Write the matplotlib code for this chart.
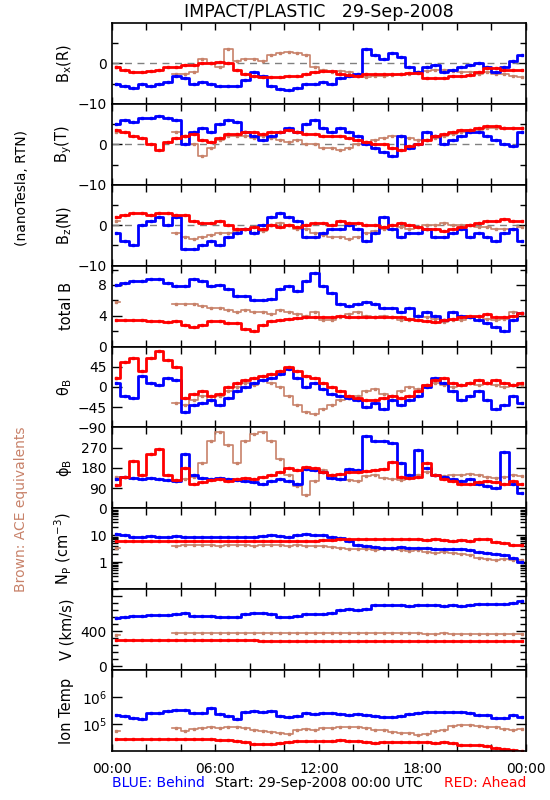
import numpy as np
import matplotlib.pyplot as plt
from matplotlib.ticker import FixedLocator, FixedFormatter, MultipleLocator, NullFormatter, LogLocator

nan = np.nan

# half-hour samples, 00:00 .. 23:30 (29-Sep-2008)
hours = np.arange(48) * 0.5 + 0.25

bx_red = [-1.0, -1.5, -2.0, -2.0, -1.8, -1.5, -1.0, -0.8,
          -0.5, -0.3, 0.0, 0.2, 0.3, 0.0, -1.5, -2.5,
          -3.0, -3.3, -3.3, -3.3, -3.0, -3.0, -2.5, -2.0,
          -1.8, -1.8, -2.5, -2.8, -3.0, -2.5, -2.5, -2.5,
          -2.5, -2.5, -2.3, -2.3, -3.5, -3.7, -3.5, -3.0,
          -3.0, -2.8, -2.0, -1.2, -1.2, -1.5, -1.7, -1.7]
bx_blue = [-5.0, -5.5, -6.0, -5.0, -5.5, -5.0, -4.5, -3.0,
           -3.5, -5.0, -4.5, -5.0, -5.5, -5.5, -5.5, -4.0,
           -2.0, -3.0, -5.5, -6.3, -6.5, -6.0, -5.0, -5.0,
           -4.5, -5.0, -3.5, -3.0, -2.5, 3.5, 2.0, 1.0,
           2.5, 1.5, -1.0, -2.0, -1.0, -0.5, -2.0, -1.5,
           -1.0, -0.5, 0.0, -1.0, -2.0, -1.0, 0.5, 2.0]
bx_ace = [-1.0, nan, nan, nan, nan, nan, nan, -2.5,
          -2.5, -2.0, 1.0, 0.0, -1.0, 3.5, 0.5, 1.0,
          1.0, 0.5, 2.0, 2.5, 2.8, 2.5, 2.0, -1.0,
          -1.5, -2.0, -1.8, -2.0, -3.0, -3.3, -3.2, -3.0,
          -2.8, -2.5, -2.5, -2.0, -1.8, -1.5, -1.5, -1.8,
          -2.0, -2.2, -2.5, -2.0, -2.5, -2.5, -3.0, -3.3]

by_red = [3.5, 3.0, 2.0, 1.5, 0.0, -1.5, 0.5, 1.5,
          2.0, 2.5, 1.0, 0.5, 1.5, 2.5, 2.5, 3.0,
          3.0, 2.5, 3.0, 3.0, 3.5, 3.0, 2.5, 2.5,
          2.0, 2.0, 2.0, 1.5, 1.0, 0.5, 0.0, 0.0,
          -1.0, -1.5, -0.5, 0.0, 1.0, 2.0, 2.5, 3.0,
          3.5, 3.5, 4.0, 4.5, 4.5, 4.0, 4.0, 4.0]
by_blue = [5.0, 6.0, 5.5, 6.5, 6.5, 7.0, 6.5, 6.0,
           0.0, 3.0, 4.0, 3.0, 5.0, 6.0, 5.5, 3.0,
           2.0, 1.0, 2.0, 3.0, 4.0, 3.0, 5.0, 6.0,
           4.0, 3.0, 4.0, 3.0, 2.0, 0.0, -1.0, -2.0,
           -3.0, 2.0, -1.0, 0.0, 3.0, 2.0, 0.0, 1.0,
           2.0, 3.0, 3.0, 2.0, 1.0, 0.0, -0.5, 3.0]
by_ace = [3.0, nan, nan, nan, nan, nan, nan, 3.0,
          2.0, 0.0, -3.0, -1.0, 1.0, 2.0, 2.0, 2.0,
          1.5, 2.0, 1.5, 1.0, 0.5, 1.0, 0.0, 0.0,
          -1.0, -1.0, -1.5, -1.0, 0.0, 0.5, 1.0, 1.5,
          2.0, 2.0, 1.5, 1.0, 1.0, 1.5, 2.0, 2.5,
          3.0, 3.5, 3.5, 4.0, 4.0, 4.0, 4.0, 4.0]

bz_red = [2.0, 2.5, 3.0, 3.0, 2.5, 3.0, 3.0, 2.5,
          2.5, 1.0, 0.5, 0.5, 1.0, 0.0, -1.0, -1.0,
          -0.5, -1.0, 0.0, -0.5, 0.0, -0.5, 0.0, 0.5,
          0.5, 0.0, 1.0, 0.5, 0.5, 0.0, 0.0, -0.5,
          0.0, 0.5, 0.0, -0.5, -1.0, -1.0, -1.5, -1.0,
          -0.5, 0.0, 0.5, 1.0, 1.0, 1.5, 1.0, 1.0]
bz_blue = [-2.0, -4.0, -5.0, 0.0, 1.0, 2.0, 0.0, 2.0,
           -6.0, -6.0, -5.0, -4.0, -5.0, -3.0, -2.0, -1.0,
           -2.0, 0.0, 2.0, 3.0, 2.0, 1.0, -3.0, -3.0,
           -2.0, -1.0, -1.0, 0.0, -1.0, -4.0, -2.0, 2.0,
           -1.0, -3.0, -2.0, -2.0, -1.0, -3.0, -3.0, -2.0,
           -1.0, -3.0, -2.0, -3.0, -4.0, -2.0, -1.0, -4.0]
bz_ace = [1.0, nan, nan, nan, nan, nan, nan, -2.0,
          -3.0, -3.5, -3.0, -2.5, -2.0, -2.0, -1.5, -1.0,
          -2.0, -1.5, 0.0, 0.5, 0.0, -1.0, -1.0, -2.0,
          -2.5, -3.0, -3.0, -3.5, -3.0, -2.0, -1.5, -1.0,
          -1.0, -0.5, -1.0, -0.5, 0.0, 0.0, 0.5, 0.0,
          0.0, 0.0, -0.5, -0.5, -1.0, -1.0, -1.0, -0.5]

bt_red = [3.5, 3.5, 3.5, 3.4, 3.3, 3.3, 3.2, 3.3,
          2.8, 2.5, 2.8, 3.3, 3.3, 3.1, 3.0, 2.3,
          2.0, 2.8, 3.3, 3.5, 3.6, 3.7, 3.8, 3.9,
          3.9, 3.9, 4.0, 3.9, 3.8, 3.8, 3.9, 3.9,
          3.9, 3.8, 3.6, 3.5, 3.3, 3.2, 3.4, 3.6,
          3.9, 4.0, 4.0, 4.2, 3.9, 3.8, 4.0, 4.3]
bt_blue = [8.0, 8.3, 8.5, 8.5, 8.8, 8.8, 8.2, 7.8,
           7.8, 8.8, 8.5, 7.8, 8.0, 7.5, 6.5, 6.5,
           6.0, 6.0, 6.2, 7.5, 7.8, 7.2, 8.5, 9.5,
           7.8, 7.0, 5.5, 5.2, 5.5, 5.8, 5.5, 5.0,
           5.0, 4.5, 5.0, 4.0, 4.5, 4.0, 3.5, 4.5,
           4.0, 3.8, 3.5, 3.0, 2.5, 2.0, 3.5, 4.3]
bt_ace = [5.8, nan, nan, nan, nan, nan, nan, 5.5,
          5.5, 5.5, 5.2, 5.0, 5.0, 4.8, 4.5, 4.8,
          4.5, 4.5, 4.2, 4.8, 4.5, 4.2, 4.0, 4.5,
          3.5, 3.5, 3.8, 4.2, 4.5, 4.0, 3.8, 4.0,
          3.8, 3.5, 3.5, 4.0, 3.8, 3.6, 3.2, 3.5,
          3.5, 3.8, 3.8, 3.6, 3.4, 3.6, 4.5, 4.2]

theta_red = [20, 55, 65, 35, 65, 80, 60, 45,
             -25, -15, -10, -20, -15, 0, 10, 15,
             20, 25, 30, 35, 45, 35, 25, 20,
             10, 0, -10, -20, -25, -30, -30, -25,
             -20, -25, -20, -10, 5, 15, 20, 10,
             5, 10, 15, 10, 15, 10, 5, 10]
theta_blue = [10, -20, -25, 25, 10, 5, 20, 15,
              -55, -40, -35, -30, -40, -25, -10, 0,
              10, 15, 20, 30, 40, 20, 0, 10,
              -5, -15, -20, -25, -30, -45, -35, -50,
              -30, -40, -30, -20, 0, 20, 10, -10,
              -30, -20, -10, -30, -50, -40, -20, -35]
theta_ace = [20, nan, nan, nan, nan, nan, nan, -35,
             -40, -30, -20, -30, -20, -10, 0, 10,
             5, 15, 10, 0, -20, -40, -55, -60,
             -50, -40, -30, -25, -20, -10, -5, -15,
             -20, -10, 0, -5, 5, 10, 5, 0,
             5, 10, 5, 10, 5, 0, 5, 5]

phi_red = [105, 140, 210, 150, 240, 265, 150, 125,
           180, 110, 115, 125, 130, 120, 130, 135,
           130, 140, 150, 160, 180, 170, 185, 180,
           160, 150, 155, 160, 160, 165, 170, 175,
           205, 140, 135, 140, 200, 150, 130, 120,
           110, 110, 115, 120, 115, 110, 120, 110]
phi_blue = [130, 140, 135, 130, 135, 130, 125, 120,
            240, 150, 135, 130, 135, 130, 125, 120,
            115, 110, 120, 130, 120, 110, 175, 170,
            160, 135, 130, 175, 170, 320, 300, 300,
            290, 200, 150, 260, 180, 150, 140, 130,
            120, 130, 110, 100, 90, 250, 110, 70]
phi_ace = [140, nan, nan, nan, nan, nan, nan, 120,
           130, 140, 200, 300, 340, 280, 200, 300,
           330, 340, 300, 220, 150, 100, 60, 120,
           170, 150, 130, 125, 120, 145, 150, 135,
           130, 125, 135, 150, 160, 150, 145, 150,
           150, 155, 150, 140, 135, 140, 150, 145]

np_red = [6.0, 6.0, 6.0, 6.2, 6.0, 6.0, 6.0, 6.0,
          6.0, 6.0, 6.2, 6.0, 6.0, 6.0, 6.0, 6.0,
          6.0, 6.0, 6.0, 6.2, 6.2, 6.0, 6.0, 6.2,
          6.5, 6.8, 7.0, 7.0, 7.2, 7.0, 7.0, 7.0,
          7.2, 7.0, 7.0, 7.0, 6.8, 7.0, 6.5, 6.0,
          6.5, 6.0, 7.0, 7.0, 5.5, 5.0, 4.5, 4.5]
np_blue = [11.0, 10.0, 9.0, 9.0, 9.5, 9.0, 9.0, 9.5,
           9.0, 9.0, 8.5, 8.5, 8.5, 9.0, 8.5, 9.0,
           9.0, 9.5, 10.0, 9.5, 9.0, 10.0, 11.0, 10.0,
           10.0, 9.0, 8.0, 6.0, 4.5, 4.0, 3.8, 3.5,
           3.5, 3.8, 3.5, 3.5, 3.3, 3.0, 3.0, 3.2,
           3.0, 2.8, 2.5, 2.2, 2.0, 1.8, 1.5, 1.0]
np_ace = [3.5, nan, nan, nan, nan, nan, nan, 4.0,
          4.2, 4.2, 4.5, 4.2, 4.0, 4.2, 4.5, 4.2,
          4.0, 4.2, 4.5, 4.2, 4.0, 4.2, 4.0, 4.0,
          4.0, 3.8, 3.5, 3.2, 3.0, 3.0, 2.8, 3.0,
          3.0, 2.8, 2.7, 2.8, 2.5, 2.3, 2.5, 2.2,
          2.0, 1.8, 1.5, 1.3, 1.2, 1.3, 1.2, 1.2]

v_red = [298, 297, 296, 296, 295, 295, 295, 295,
         295, 295, 295, 295, 294, 294, 294, 294,
         294, 293, 293, 293, 293, 292, 292, 292,
         292, 292, 291, 291, 291, 290, 290, 290,
         290, 290, 289, 289, 289, 288, 288, 288,
         288, 288, 287, 287, 286, 286, 285, 285]
v_blue = [550, 560, 575, 575, 580, 585, 590, 600,
          610, 570, 570, 575, 565, 560, 565, 600,
          610, 605, 595, 560, 560, 575, 595, 600,
          595, 610, 640, 650, 645, 650, 700, 700,
          705, 700, 690, 700, 700, 695, 690, 700,
          690, 695, 715, 715, 715, 715, 720, 740]
v_ace = [360, nan, nan, nan, nan, nan, nan, 375,
         380, 380, 385, 382, 380, 380, 380, 378,
         378, 380, 382, 380, 380, 380, 378, 378,
         380, 382, 380, 378, 378, 378, 376, 376,
         376, 375, 374, 374, 372, 372, 374, 372,
         372, 372, 370, 370, 370, 370, 370, 368]

t_red = [2.9e4, 2.8e4, 2.8e4, 2.8e4, 2.9e4, 2.8e4, 2.8e4, 2.8e4,
         2.8e4, 2.8e4, 2.8e4, 2.8e4, 2.6e4, 2.6e4, 2.3e4, 2.2e4,
         1.8e4, 1.8e4, 1.8e4, 1.9e4, 2.2e4, 2.3e4, 2.3e4, 2.3e4,
         2.4e4, 2.4e4, 2.5e4, 2.4e4, 2.3e4, 2.2e4, 2.0e4, 2.1e4,
         2.2e4, 2.2e4, 2.2e4, 2.1e4, 2.1e4, 2.0e4, 2.2e4, 1.9e4,
         1.6e4, 1.6e4, 1.6e4, 1.5e4, 1.3e4, 1.2e4, 1.05e4, 1.0e4]
t_blue = [2.2e5, 2.0e5, 1.7e5, 1.6e5, 2.5e5, 2.6e5, 3.0e5, 3.4e5,
          3.2e5, 2.5e5, 2.6e5, 3.9e5, 2.4e5, 2.0e5, 1.5e5, 2.9e5,
          3.0e5, 2.9e5, 3.0e5, 2.0e5, 1.9e5, 2.0e5, 2.5e5, 2.4e5,
          2.5e5, 2.6e5, 2.4e5, 2.2e5, 2.3e5, 2.1e5, 2.0e5, 1.9e5,
          1.9e5, 2.0e5, 2.4e5, 2.6e5, 2.8e5, 2.9e5, 2.9e5, 2.8e5,
          2.8e5, 2.6e5, 2.2e5, 2.1e5, 1.7e5, 1.7e5, 2.2e5, 1.8e5]
t_ace = [5.3e4, nan, nan, nan, nan, nan, nan, 7.1e4,
         5.3e4, 6.5e4, 7.1e4, 7.5e4, 7.0e4, 7.7e4, 7.5e4, 7.0e4,
         6.0e4, 5.5e4, 5.0e4, 4.6e4, 4.2e4, 6.2e4, 6.5e4, 6.2e4,
         7.0e4, 7.1e4, 7.5e4, 8.0e4, 7.5e4, 7.0e4, 6.0e4, 5.8e4,
         5.0e4, 4.8e4, 4.5e4, 4.0e4, 4.2e4, 5.5e4, 6.2e4, 8.5e4,
         9.4e4, 9.0e4, 8.5e4, 8.0e4, 7.5e4, 6.5e4, 6.0e4, 6.5e4]

BROWN = '#C8826A'
time_labels = ['00:00', '06:00', '12:00', '18:00', '00:00']

panels = [
    ('B$_x$(R)', bx_ace, bx_blue, bx_red),
    ('B$_y$(T)', by_ace, by_blue, by_red),
    ('B$_z$(N)', bz_ace, bz_blue, bz_red),
    ('total B', bt_ace, bt_blue, bt_red),
    (r'$\theta_B$', theta_ace, theta_blue, theta_red),
    (r'$\phi_B$', phi_ace, phi_blue, phi_red),
    ('N$_P$ (cm$^{-3}$)', np_ace, np_blue, np_red),
    ('V (km/s)', v_ace, v_blue, v_red),
    ('Ion Temp', t_ace, t_blue, t_red),
]

plt.rcParams['font.family'] = 'DejaVu Sans'
plt.rcParams['font.size'] = 10
plt.rcParams['mathtext.default'] = 'regular'

fig = plt.figure(figsize=(5.5, 8), dpi=100)
W, H = 550.0, 800.0
left, right = 111.7, 526.0
top, bottom = 23.0, 751.0
ph = (bottom - top) / 9

axes = []
for i, (label, ace, blue, red) in enumerate(panels):
    y0 = top + i * ph
    ax = fig.add_axes([left / W, 1 - (y0 + ph) / H, (right - left) / W, ph / H])
    axes.append(ax)
    if i < 3:
        ax.axhline(0, color='gray', lw=1, dashes=(5, 4))
    ax.plot(hours, ace, color=BROWN, lw=1.2, marker='s', ms=1.5, drawstyle='steps-mid')
    ax.plot(hours, blue, color='blue', lw=2, marker='s', ms=2, drawstyle='steps-mid')
    ax.plot(hours, red, color='red', lw=2, marker='s', ms=2, drawstyle='steps-mid')
    ax.set_xlim(0, 24)
    ax.xaxis.set_major_locator(MultipleLocator(6))
    ax.xaxis.set_minor_locator(MultipleLocator(2))
    if i == 8:
        ax.xaxis.set_major_locator(FixedLocator([0, 6, 12, 18, 24]))
        ax.xaxis.set_major_formatter(FixedFormatter(time_labels))
    else:
        ax.xaxis.set_major_formatter(NullFormatter())
    ax.set_ylabel(label, fontsize=10.5)
    ax.yaxis.set_label_coords(-0.09, 0.5)
    ax.tick_params(which='both', direction='in', top=True, right=True, labelsize=10, width=1)
    ax.tick_params(which='major', length=7)
    ax.tick_params(which='minor', length=4)
    ax.tick_params(axis='x', which='both', length=5, pad=8)
    for s in ax.spines.values():
        s.set_linewidth(1.2)

for ax in axes[:3]:
    ax.set_ylim(-10, 10)
    ax.yaxis.set_major_locator(FixedLocator([-10, 0]))
    ax.yaxis.set_major_formatter(FixedFormatter(['\u221210', '0']))
    ax.yaxis.set_minor_locator(FixedLocator([-5, 5]))

ax = axes[3]
ax.set_ylim(0, 10.5)
ax.yaxis.set_major_locator(FixedLocator([0, 4, 8]))
ax.yaxis.set_minor_locator(FixedLocator([2, 6, 10]))

ax = axes[4]
ax.set_ylim(-90, 90)
ax.yaxis.set_major_locator(FixedLocator([-90, -45, 0, 45]))
ax.yaxis.set_major_formatter(FixedFormatter(['\u221290', '\u221245', '0', '45']))

ax = axes[5]
ax.set_ylim(0, 360)
ax.yaxis.set_major_locator(FixedLocator([0, 90, 180, 270]))
ax.yaxis.set_major_formatter(FixedFormatter(['0', '90', '180', '270']))

ax = axes[6]
ax.set_yscale('log')
ax.set_ylim(0.1, 100)
ax.yaxis.set_major_locator(FixedLocator([1, 10]))
ax.yaxis.set_major_formatter(FixedFormatter(['1', '10']))
ax.yaxis.set_minor_locator(LogLocator(subs=np.arange(2, 10), numticks=20))
ax.yaxis.set_minor_formatter(NullFormatter())

ax = axes[7]
ax.set_ylim(-45, 880)
ax.yaxis.set_major_locator(FixedLocator([0, 400, 800]))
ax.yaxis.set_major_formatter(FixedFormatter(['0', '400', '']))
ax.yaxis.set_minor_locator(MultipleLocator(80))

ax = axes[8]
ax.set_yscale('log')
ax.set_ylim(1e4, 1e7)
ax.yaxis.set_major_locator(FixedLocator([1e5, 1e6]))
ax.yaxis.set_major_formatter(FixedFormatter(['$10^5$', '$10^6$']))
ax.yaxis.set_minor_locator(FixedLocator([]))

fig.text(318.9 / W, 1 - 12 / H, 'IMPACT/PLASTIC   29-Sep-2008', ha='center', va='center', fontsize=12.5)
fig.text(22 / W, 1 - 188 / H, '(nanoTesla, RTN)', rotation=90, ha='center', va='center', fontsize=10)
fig.text(21 / W, 1 - 509 / H, 'Brown: ACE equivalents', rotation=90, ha='center', va='center',
         fontsize=10, color=BROWN)
fig.text(left / W, 1 - 783 / H, 'BLUE: Behind', ha='left', va='center', color='blue', fontsize=10)
fig.text(318.9 / W, 1 - 783 / H, 'Start: 29-Sep-2008 00:00 UTC', ha='center', va='center', fontsize=10)
fig.text(right / W, 1 - 783 / H, 'RED: Ahead', ha='right', va='center', color='red', fontsize=10)

fig.savefig('out.png', dpi=100)
